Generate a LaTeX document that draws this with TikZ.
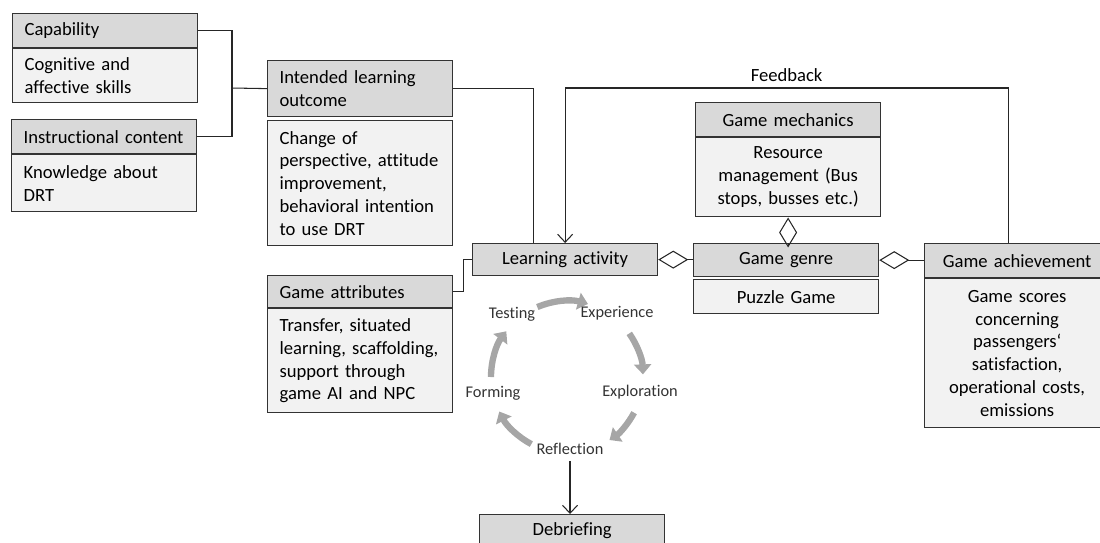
\documentclass[tikz,border=0pt]{standalone}
\usepackage{fontspec}
\setmainfont{Carlito}[Ligatures={NoCommon}]
\usetikzlibrary{arrows.meta, positioning}

\newcommand{\boxfont}{\fontsize{10.6}{13}\selectfont}
\newcommand{\cycfont}{\fontsize{9.3}{11}\selectfont}

\begin{document}
\begin{tikzpicture}[
    hd/.style    = {draw=black!80, fill=gray!30, line width=0.7pt, anchor=north west,
                    text width=3.22cm, minimum height=0.68cm,
                    inner xsep=0.24cm, inner ysep=0pt, font=\boxfont},
    bd/.style    = {draw=black!80, fill=gray!10, line width=0.7pt,
                    text width=3.22cm, inner xsep=0.24cm, inner ysep=0pt, font=\boxfont},
    ln/.style    = {draw=black!85, line width=0.6pt},
    agg/.style   = {ln, {Diamond[open, length=0.6cm, width=0.36cm]}-},
    barb/.style  = {ln, -{Straight Barb[length=0.16cm, width=0.3cm]}},
    cyc/.style   = {draw=gray!70, line width=3.6pt, -{Triangle[length=0.2cm, width=0.34cm]}},
    stage/.style = {font=\cycfont, text=black!80},
]

    \useasboundingbox (0,0) rectangle (22,-10.84);
    \clip (0,0) rectangle (22,-10.84);

    % -- left column --
    \node[hd, align=left] (cap) at (0.24,-0.26) {Capability};
    \node[bd, align=left, minimum height=1.08cm, below=0pt of cap] (capb) {Cognitive and\\affective skills};
    \node[hd, align=left] (inst) at (0.22,-2.38) {Instructional content};
    \node[bd, align=left, minimum height=1.14cm, below=0pt of inst] (instb) {Knowledge about\\DRT};

    % -- learning side --
    \node[hd, align=left, minimum height=1.12cm] (ilo) at (5.34,-1.2) {Intended learning\\outcome};
    \node[bd, align=left, minimum height=2.5cm, below=0.06cm of ilo] (ilob)
        {Change of\\perspective, attitude\\improvement,\\behavioral intention\\to use DRT};
    \node[hd, align=left, minimum height=0.64cm] (attr) at (5.34,-5.5) {Game attributes};
    \node[bd, align=left, minimum height=2.08cm, below=0pt of attr] (attrb)
        {Transfer, situated\\learning, scaffolding,\\support through\\game AI and NPC};
    \node[hd, align=center, minimum height=0.64cm] (act) at (9.44,-4.86) {Learning activity};

    % -- game side --
    \node[hd, align=center] (mech) at (13.9,-2.04) {Game mechanics};
    \node[bd, align=center, minimum height=1.58cm, below=0pt of mech] (mechb)
        {Resource\\management (Bus\\stops, busses etc.)};
    \node[hd, align=center, minimum height=0.66cm] (genre) at (13.86,-4.86) {Game genre};
    \node[bd, align=center, minimum height=0.68cm, below=0.04cm of genre] (genreb) {Puzzle Game};
    \node[hd, align=center] (ach) at (18.48,-4.86) {Game achievement};
    \node[bd, align=center, minimum height=2.98cm, below=0pt of ach] (achb)
        {Game scores\\concerning\\passengers‘\\satisfaction,\\operational costs,\\emissions};

    \node[hd, align=center, minimum height=0.64cm] (debr) at (9.58,-10.28) {Debriefing};

    % -- learning cycle --
    \coordinate (cc) at (11.34,-7.54);
    \foreach \a/\b in {113/74, 35/2, -28/-56, -118/-153, 180/143}
        \draw[cyc] ([shift={(\a:1.52)}]cc) arc[start angle=\a, end angle=\b, radius=1.52];

    \node[stage] (test)  at (10.24,-6.28) {Testing};
    \node[stage] (exper) at (12.34,-6.26) {Experience};
    \node[stage] (explo) at (12.8,-7.84)  {Exploration};
    \node[stage] (refl)  at (11.4,-8.98)  {Reflection};
    \node[stage] (form)  at (9.86,-7.86)  {Forming};

    % -- connectors --
    \coordinate (jn) at (4.64,-1.76);
    \draw[ln] (cap.east) -| (jn) |- (inst.east);
    \draw[ln] (jn) -- (ilo.west);
    \draw[ln] (ilo.east) -| ([xshift=-0.63cm]act.north);
    \draw[ln] (attr.east) -- ++(0.2,0) |- (act.west);
    \draw[agg] (act.east) -- (act.east -| genre.west);
    \draw[agg] (mechb.south) -- (mechb.south |- genre.north);
    \draw[agg] (genre.east) -- (genre.east -| ach.west);
    \draw[barb] ([xshift=-0.18cm]ach.north) -- ++(0,3.1)
        -| node[above, pos=0.25, font=\boxfont] (fb) {Feedback} (act.north);
    \draw[barb] (refl) -- (refl |- debr.north);

\end{tikzpicture}
\end{document}
